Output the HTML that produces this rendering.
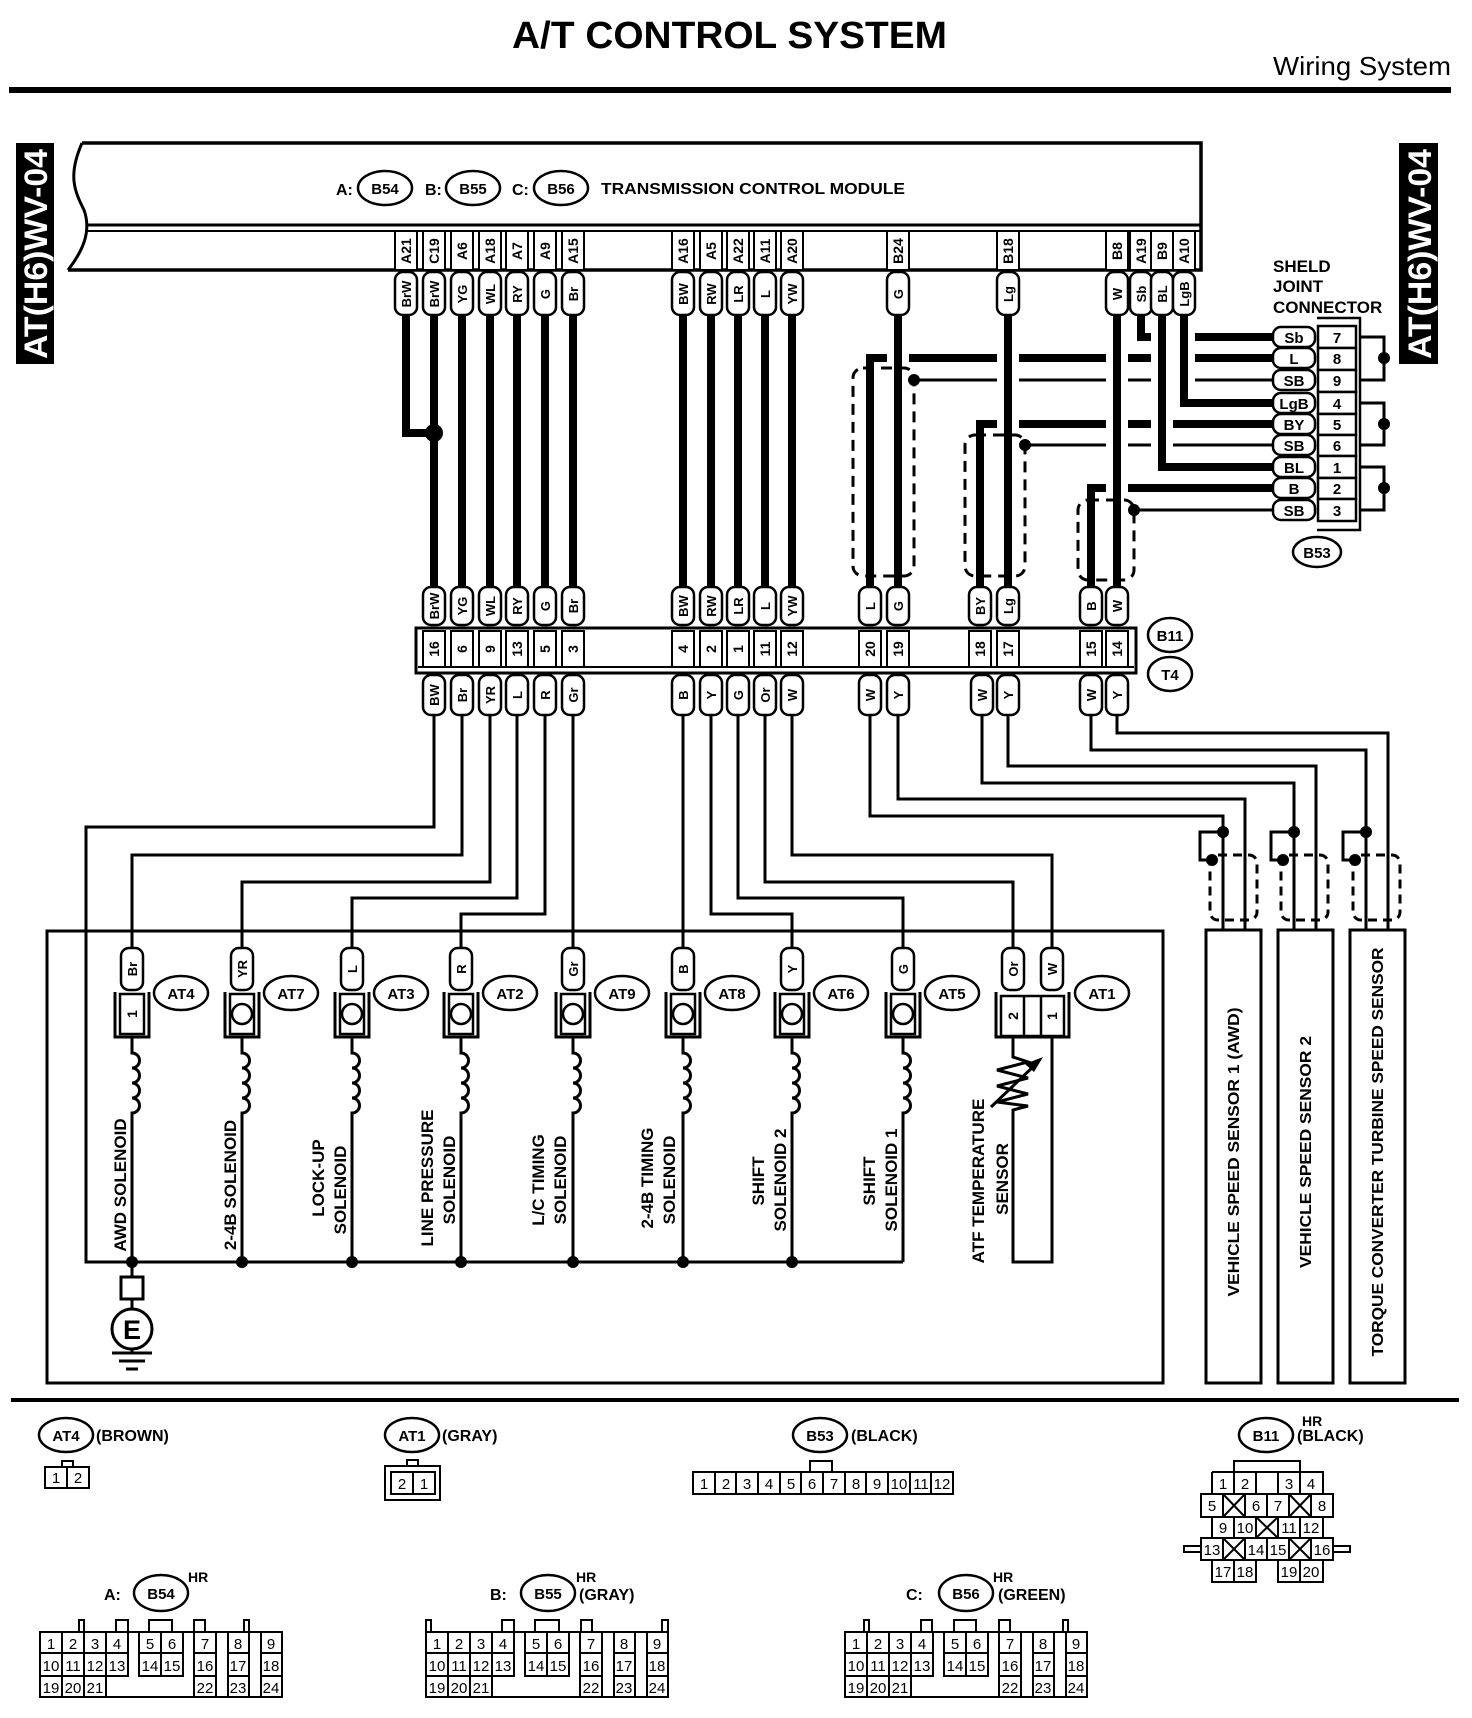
<!DOCTYPE html>
<html><head><meta charset="utf-8"><style>
html,body{margin:0;padding:0;background:#fff}
svg{display:block}
text{font-family:"Liberation Sans",Arial,sans-serif;font-weight:bold;fill:#000}
.n{font-weight:normal}
.k{fill:none;stroke:#000}
.c{fill:#fff;stroke:#000;stroke-width:2.5}
</style></head><body>
<svg width="1472" height="1718" viewBox="0 0 1472 1718" xmlns="http://www.w3.org/2000/svg">
<!-- header -->
<text x="512" y="48" font-size="38" textLength="435" lengthAdjust="spacingAndGlyphs">A/T CONTROL SYSTEM</text>
<text class="n" x="1273" y="75" font-size="26" textLength="178" lengthAdjust="spacingAndGlyphs" style="font-weight:normal">Wiring System</text>
<rect x="9" y="87" width="1442" height="6" fill="#000"/>
<!-- sidebars -->
<rect x="16" y="143" width="38" height="221" fill="#000"/>
<text transform="translate(47,254) rotate(-90)" text-anchor="middle" font-size="32" textLength="210" lengthAdjust="spacingAndGlyphs" style="fill:#fff">AT(H6)WV-04</text>
<rect x="1399" y="143" width="39" height="221" fill="#000"/>
<text transform="translate(1431,254) rotate(-90)" text-anchor="middle" font-size="32" textLength="210" lengthAdjust="spacingAndGlyphs" style="fill:#fff">AT(H6)WV-04</text>

<!-- TCM box -->
<path class="k" stroke-width="3.5" d="M82,143 H1201 V270 H68"/>
<path class="k" stroke-width="3" d="M82,143 C68,175 74,190 84,210 C92,232 82,252 68,270"/>
<path class="k" stroke-width="3" d="M86,225 H1201"/>
<path class="k" stroke-width="2" d="M87,231 H1201"/>
<text x="336" y="195" font-size="16">A:</text>
<ellipse class="c" cx="385" cy="188" rx="27" ry="17"/><text x="385" y="194" font-size="15" text-anchor="middle">B54</text>
<text x="425" y="195" font-size="16">B:</text>
<ellipse class="c" cx="473" cy="188" rx="27" ry="17"/><text x="473" y="194" font-size="15" text-anchor="middle">B55</text>
<text x="512" y="195" font-size="16">C:</text>
<ellipse class="c" cx="561" cy="188" rx="27" ry="17"/><text x="561" y="194" font-size="15" text-anchor="middle">B56</text>
<text x="601" y="194" font-size="16" textLength="304" lengthAdjust="spacingAndGlyphs">TRANSMISSION CONTROL MODULE</text>

<!-- TCM pin boxes -->
<g class="c" style="stroke-width:2">
<rect x="395" y="231" width="22" height="39"/><rect x="423" y="231" width="22" height="39"/><rect x="451" y="231" width="22" height="39"/><rect x="479" y="231" width="22" height="39"/><rect x="506" y="231" width="22" height="39"/><rect x="534" y="231" width="22" height="39"/><rect x="562" y="231" width="22" height="39"/>
<rect x="672" y="231" width="22" height="39"/><rect x="700" y="231" width="22" height="39"/><rect x="727" y="231" width="22" height="39"/><rect x="754" y="231" width="22" height="39"/><rect x="781" y="231" width="22" height="39"/>
<rect x="887" y="231" width="22" height="39"/><rect x="997" y="231" width="22" height="39"/>
<rect x="1106" y="231" width="22" height="39"/><rect x="1130" y="231" width="22" height="39"/><rect x="1151" y="231" width="22" height="39"/><rect x="1173" y="231" width="22" height="39"/>
</g>
<g font-size="14" text-anchor="middle">
<text transform="translate(411,251) rotate(-90)">A21</text><text transform="translate(439,251) rotate(-90)">C19</text><text transform="translate(467,251) rotate(-90)">A6</text><text transform="translate(495,251) rotate(-90)">A18</text><text transform="translate(522,251) rotate(-90)">A7</text><text transform="translate(550,251) rotate(-90)">A9</text><text transform="translate(578,251) rotate(-90)">A15</text>
<text transform="translate(688,251) rotate(-90)">A16</text><text transform="translate(716,251) rotate(-90)">A5</text><text transform="translate(743,251) rotate(-90)">A22</text><text transform="translate(770,251) rotate(-90)">A11</text><text transform="translate(797,251) rotate(-90)">A20</text>
<text transform="translate(903,251) rotate(-90)">B24</text><text transform="translate(1013,251) rotate(-90)">B18</text>
<text transform="translate(1122,251) rotate(-90)">B8</text><text transform="translate(1146,251) rotate(-90)">A19</text><text transform="translate(1167,251) rotate(-90)">B9</text><text transform="translate(1189,251) rotate(-90)">A10</text>
</g>

<!-- shield joint horizontals -->
<g class="k" stroke-width="8">
<path d="M1141,315 V337 H1273"/>
<path d="M870,587 V358 H1273"/>
<path d="M980,587 V424 H1273"/>
<path d="M1091,587 V488 H1273"/>
<path d="M1184,315 V403 H1273"/>
<path d="M1162,315 V467 H1273"/>
</g>
<g class="k" stroke-width="3">
<path d="M914,380 H1273"/><path d="M1025,445 H1273"/><path d="M1134,510 H1273"/>
</g>
<!-- halos -->
<g stroke="#fff" stroke-width="22" fill="none">
<path d="M898,322 V580"/><path d="M1008,322 V580"/><path d="M1117,322 V580"/>
<path d="M1162,325 V455"/><path d="M1184,325 V392"/>
</g>
<!-- thick verticals -->
<g class="k" stroke-width="8">
<path d="M406,315 V433 H434"/>
<path d="M434,315 V587"/><path d="M462,315 V587"/><path d="M490,315 V587"/><path d="M517,315 V587"/><path d="M545,315 V587"/><path d="M573,315 V587"/>
<path d="M683,315 V587"/><path d="M711,315 V587"/><path d="M738,315 V587"/><path d="M765,315 V587"/><path d="M792,315 V587"/>
<path d="M898,315 V587"/><path d="M1008,315 V587"/><path d="M1117,315 V587"/>
<path d="M1184,315 V403 H1273"/><path d="M1162,315 V467 H1273"/>
</g>
<circle cx="434" cy="433" r="9" fill="#000"/>
<!-- shields upper -->
<g class="k" stroke-width="3" stroke-dasharray="11,7">
<rect x="853" y="368" width="61" height="208" rx="10"/>
<rect x="965" y="435" width="60" height="141" rx="10"/>
<rect x="1078" y="500" width="56" height="80" rx="10"/>
</g>
<circle cx="914" cy="380" r="6"/><circle cx="1025" cy="445" r="6"/><circle cx="1134" cy="510" r="6"/>

<!-- TCM wire capsules -->
<g class="c">
<rect x="395" y="272" width="22" height="43" rx="8"/><rect x="423" y="272" width="22" height="43" rx="8"/><rect x="451" y="272" width="22" height="43" rx="8"/><rect x="479" y="272" width="22" height="43" rx="8"/><rect x="506" y="272" width="22" height="43" rx="8"/><rect x="534" y="272" width="22" height="43" rx="8"/><rect x="562" y="272" width="22" height="43" rx="8"/>
<rect x="672" y="272" width="22" height="43" rx="8"/><rect x="700" y="272" width="22" height="43" rx="8"/><rect x="727" y="272" width="22" height="43" rx="8"/><rect x="754" y="272" width="22" height="43" rx="8"/><rect x="781" y="272" width="22" height="43" rx="8"/>
<rect x="887" y="272" width="22" height="43" rx="8"/><rect x="997" y="272" width="22" height="43" rx="8"/>
<rect x="1106" y="272" width="22" height="43" rx="8"/><rect x="1130" y="272" width="22" height="43" rx="8"/><rect x="1151" y="272" width="22" height="43" rx="8"/><rect x="1173" y="272" width="22" height="43" rx="8"/>
</g>
<g font-size="13" text-anchor="middle">
<text transform="translate(411,294) rotate(-90)">BrW</text><text transform="translate(439,294) rotate(-90)">BrW</text><text transform="translate(467,294) rotate(-90)">YG</text><text transform="translate(495,294) rotate(-90)">WL</text><text transform="translate(522,294) rotate(-90)">RY</text><text transform="translate(550,294) rotate(-90)">G</text><text transform="translate(578,294) rotate(-90)">Br</text>
<text transform="translate(688,294) rotate(-90)">BW</text><text transform="translate(716,294) rotate(-90)">RW</text><text transform="translate(743,294) rotate(-90)">LR</text><text transform="translate(770,294) rotate(-90)">L</text><text transform="translate(797,294) rotate(-90)">YW</text>
<text transform="translate(903,294) rotate(-90)">G</text><text transform="translate(1013,294) rotate(-90)">Lg</text>
<text transform="translate(1122,294) rotate(-90)">W</text><text transform="translate(1146,294) rotate(-90)">Sb</text><text transform="translate(1167,294) rotate(-90)">BL</text><text transform="translate(1189,294) rotate(-90)">LgB</text>
</g>

<!-- shield joint connector -->
<text x="1273" y="272" font-size="17">SHELD</text>
<text x="1273" y="292" font-size="17">JOINT</text>
<text x="1273" y="313" font-size="17">CONNECTOR</text>
<path class="k" stroke-width="2.5" d="M1317,318 H1360 V530 H1317"/>
<g class="c">
<rect x="1273" y="327" width="42" height="20" rx="8"/><rect x="1273" y="348" width="42" height="20" rx="8"/><rect x="1273" y="370" width="42" height="20" rx="8"/><rect x="1273" y="393" width="42" height="20" rx="8"/><rect x="1273" y="414" width="42" height="20" rx="8"/><rect x="1273" y="435" width="42" height="20" rx="8"/><rect x="1273" y="457" width="42" height="20" rx="8"/><rect x="1273" y="478" width="42" height="20" rx="8"/><rect x="1273" y="500" width="42" height="20" rx="8"/>
<rect x="1318" y="326" width="38" height="22"/><rect x="1318" y="348" width="38" height="22"/><rect x="1318" y="370" width="38" height="22"/><rect x="1318" y="392" width="38" height="22"/><rect x="1318" y="414" width="38" height="21"/><rect x="1318" y="435" width="38" height="21"/><rect x="1318" y="456" width="38" height="22"/><rect x="1318" y="478" width="38" height="21"/><rect x="1318" y="499" width="38" height="22"/>
</g>
<g font-size="15" text-anchor="middle">
<text x="1294" y="343">Sb</text><text x="1294" y="364">L</text><text x="1294" y="386">SB</text><text x="1294" y="409">LgB</text><text x="1294" y="430">BY</text><text x="1294" y="451">SB</text><text x="1294" y="473">BL</text><text x="1294" y="494">B</text><text x="1294" y="516">SB</text>
<text x="1337" y="343">7</text><text x="1337" y="364">8</text><text x="1337" y="386">9</text><text x="1337" y="409">4</text><text x="1337" y="430">5</text><text x="1337" y="451">6</text><text x="1337" y="473">1</text><text x="1337" y="494">2</text><text x="1337" y="516">3</text>
</g>
<g class="k" stroke-width="3">
<path d="M1360,337 H1384 V380 H1360"/><path d="M1360,403 H1384 V445 H1360"/><path d="M1360,467 H1384 V510 H1360"/>
</g>
<circle cx="1384" cy="358" r="6"/><circle cx="1384" cy="424" r="6"/><circle cx="1384" cy="488" r="6"/>
<ellipse class="c" cx="1317" cy="552" rx="24" ry="15"/><text x="1317" y="558" font-size="15" text-anchor="middle">B53</text>

<!-- B11 / T4 connector -->
<rect class="c" style="stroke-width:3" x="416" y="628" width="720" height="45"/>
<path class="k" stroke-width="2" d="M418,667 H1134"/>
<g class="c" style="stroke-width:2">
<rect x="423" y="631" width="22" height="36"/><rect x="451" y="631" width="22" height="36"/><rect x="479" y="631" width="22" height="36"/><rect x="506" y="631" width="22" height="36"/><rect x="534" y="631" width="22" height="36"/><rect x="562" y="631" width="22" height="36"/>
<rect x="672" y="631" width="22" height="36"/><rect x="700" y="631" width="22" height="36"/><rect x="727" y="631" width="22" height="36"/><rect x="754" y="631" width="22" height="36"/><rect x="781" y="631" width="22" height="36"/>
<rect x="859" y="631" width="22" height="36"/><rect x="887" y="631" width="22" height="36"/><rect x="969" y="631" width="22" height="36"/><rect x="997" y="631" width="22" height="36"/><rect x="1080" y="631" width="22" height="36"/><rect x="1106" y="631" width="22" height="36"/>
</g>
<g font-size="14" text-anchor="middle">
<text transform="translate(439,649) rotate(-90)">16</text><text transform="translate(467,649) rotate(-90)">6</text><text transform="translate(495,649) rotate(-90)">9</text><text transform="translate(522,649) rotate(-90)">13</text><text transform="translate(550,649) rotate(-90)">5</text><text transform="translate(578,649) rotate(-90)">3</text>
<text transform="translate(688,649) rotate(-90)">4</text><text transform="translate(716,649) rotate(-90)">2</text><text transform="translate(743,649) rotate(-90)">1</text><text transform="translate(770,649) rotate(-90)">11</text><text transform="translate(797,649) rotate(-90)">12</text>
<text transform="translate(875,649) rotate(-90)">20</text><text transform="translate(903,649) rotate(-90)">19</text><text transform="translate(985,649) rotate(-90)">18</text><text transform="translate(1013,649) rotate(-90)">17</text><text transform="translate(1096,649) rotate(-90)">15</text><text transform="translate(1122,649) rotate(-90)">14</text>
</g>
<ellipse class="c" cx="1170" cy="635" rx="22" ry="17"/><text x="1170" y="641" font-size="15" text-anchor="middle">B11</text>
<ellipse class="c" cx="1170" cy="674" rx="22" ry="17"/><text x="1170" y="680" font-size="15" text-anchor="middle">T4</text>
<!-- B11 upper capsules -->
<g class="c">
<rect x="423" y="587" width="22" height="38" rx="8"/><rect x="451" y="587" width="22" height="38" rx="8"/><rect x="479" y="587" width="22" height="38" rx="8"/><rect x="506" y="587" width="22" height="38" rx="8"/><rect x="534" y="587" width="22" height="38" rx="8"/><rect x="562" y="587" width="22" height="38" rx="8"/>
<rect x="672" y="587" width="22" height="38" rx="8"/><rect x="700" y="587" width="22" height="38" rx="8"/><rect x="727" y="587" width="22" height="38" rx="8"/><rect x="754" y="587" width="22" height="38" rx="8"/><rect x="781" y="587" width="22" height="38" rx="8"/>
<rect x="859" y="587" width="22" height="38" rx="8"/><rect x="887" y="587" width="22" height="38" rx="8"/><rect x="969" y="587" width="22" height="38" rx="8"/><rect x="997" y="587" width="22" height="38" rx="8"/><rect x="1080" y="587" width="22" height="38" rx="8"/><rect x="1106" y="587" width="22" height="38" rx="8"/>
</g>
<g font-size="13" text-anchor="middle">
<text transform="translate(439,606) rotate(-90)">BrW</text><text transform="translate(467,606) rotate(-90)">YG</text><text transform="translate(495,606) rotate(-90)">WL</text><text transform="translate(522,606) rotate(-90)">RY</text><text transform="translate(550,606) rotate(-90)">G</text><text transform="translate(578,606) rotate(-90)">Br</text>
<text transform="translate(688,606) rotate(-90)">BW</text><text transform="translate(716,606) rotate(-90)">RW</text><text transform="translate(743,606) rotate(-90)">LR</text><text transform="translate(770,606) rotate(-90)">L</text><text transform="translate(797,606) rotate(-90)">YW</text>
<text transform="translate(875,606) rotate(-90)">L</text><text transform="translate(903,606) rotate(-90)">G</text><text transform="translate(985,606) rotate(-90)">BY</text><text transform="translate(1013,606) rotate(-90)">Lg</text><text transform="translate(1096,606) rotate(-90)">B</text><text transform="translate(1122,606) rotate(-90)">W</text>
</g>

<!-- lower thin wires -->
<g class="k" stroke-width="3">
<path d="M434,715 V827 H86 V1262 H903"/>
<path d="M462,715 V855 H132 V948"/>
<path d="M490,715 V882 H242 V948"/>
<path d="M517,715 V898 H352 V948"/>
<path d="M545,715 V914 H461 V948"/>
<path d="M573,715 V948"/>
<path d="M683,715 V948"/>
<path d="M711,715 V914 H792 V948"/>
<path d="M738,715 V898 H903 V948"/>
<path d="M765,715 V882 H1013 V948"/>
<path d="M792,715 V855 H1052 V948"/>
<path d="M870,715 V816 H1223 V930"/>
<path d="M898,715 V799 H1245 V930"/>
<path d="M982,715 V783 H1294 V930"/>
<path d="M1008,715 V766 H1316 V930"/>
<path d="M1091,715 V750 H1366 V930"/>
<path d="M1117,715 V733 H1388 V930"/>
</g>
<!-- B11 lower capsules -->
<g class="c">
<rect x="423" y="675" width="22" height="40" rx="8"/><rect x="451" y="675" width="22" height="40" rx="8"/><rect x="479" y="675" width="22" height="40" rx="8"/><rect x="506" y="675" width="22" height="40" rx="8"/><rect x="534" y="675" width="22" height="40" rx="8"/><rect x="562" y="675" width="22" height="40" rx="8"/>
<rect x="672" y="675" width="22" height="40" rx="8"/><rect x="700" y="675" width="22" height="40" rx="8"/><rect x="727" y="675" width="22" height="40" rx="8"/><rect x="754" y="675" width="22" height="40" rx="8"/><rect x="781" y="675" width="22" height="40" rx="8"/>
<rect x="859" y="675" width="22" height="40" rx="8"/><rect x="887" y="675" width="22" height="40" rx="8"/><rect x="971" y="675" width="22" height="40" rx="8"/><rect x="997" y="675" width="22" height="40" rx="8"/><rect x="1080" y="675" width="22" height="40" rx="8"/><rect x="1106" y="675" width="22" height="40" rx="8"/>
</g>
<g font-size="13" text-anchor="middle">
<text transform="translate(439,695) rotate(-90)">BW</text><text transform="translate(467,695) rotate(-90)">Br</text><text transform="translate(495,695) rotate(-90)">YR</text><text transform="translate(522,695) rotate(-90)">L</text><text transform="translate(550,695) rotate(-90)">R</text><text transform="translate(578,695) rotate(-90)">Gr</text>
<text transform="translate(688,695) rotate(-90)">B</text><text transform="translate(716,695) rotate(-90)">Y</text><text transform="translate(743,695) rotate(-90)">G</text><text transform="translate(770,695) rotate(-90)">Or</text><text transform="translate(797,695) rotate(-90)">W</text>
<text transform="translate(875,695) rotate(-90)">W</text><text transform="translate(903,695) rotate(-90)">Y</text><text transform="translate(987,695) rotate(-90)">W</text><text transform="translate(1013,695) rotate(-90)">Y</text><text transform="translate(1096,695) rotate(-90)">W</text><text transform="translate(1122,695) rotate(-90)">Y</text>
</g>

<!-- sensor shields -->
<g class="k" stroke-width="3">
<path d="M1223,832 H1200 V860 H1212"/><path d="M1294,832 H1271 V860 H1283"/><path d="M1366,832 H1343 V860 H1355"/>
</g>
<circle cx="1223" cy="832" r="6"/><circle cx="1212" cy="860" r="6"/>
<circle cx="1294" cy="832" r="6"/><circle cx="1283" cy="860" r="6"/>
<circle cx="1366" cy="832" r="6"/><circle cx="1355" cy="860" r="6"/>
<g class="k" stroke-width="3" stroke-dasharray="9,6">
<rect x="1210" y="855" width="47" height="65" rx="8"/><rect x="1281" y="855" width="47" height="65" rx="8"/><rect x="1353" y="855" width="47" height="65" rx="8"/>
</g>
<!-- sensor boxes -->
<g class="k" stroke-width="3">
<rect x="1206" y="930" width="55" height="453"/><rect x="1278" y="930" width="55" height="453"/><rect x="1350" y="930" width="55" height="453"/>
</g>
<g font-size="16" text-anchor="middle">
<text transform="translate(1239,1152) rotate(-90)" textLength="289" lengthAdjust="spacingAndGlyphs">VEHICLE SPEED SENSOR 1 (AWD)</text>
<text transform="translate(1311,1152) rotate(-90)" textLength="232" lengthAdjust="spacingAndGlyphs">VEHICLE SPEED SENSOR 2</text>
<text transform="translate(1383,1152) rotate(-90)" textLength="409" lengthAdjust="spacingAndGlyphs">TORQUE CONVERTER TURBINE SPEED SENSOR</text>
</g>

<!-- solenoid box -->
<rect class="k" stroke-width="3" x="47" y="931" width="1116" height="452"/>

<!-- solenoids -->
<g class="k" stroke-width="3">
<path d="M132,1037 V1053 a7.5,7.5 0 0 1 0,15 a7.5,7.5 0 0 1 0,15 a7.5,7.5 0 0 1 0,15 a7.5,7.5 0 0 1 0,15 V1262"/>
<path d="M242,1037 V1053 a7.5,7.5 0 0 1 0,15 a7.5,7.5 0 0 1 0,15 a7.5,7.5 0 0 1 0,15 a7.5,7.5 0 0 1 0,15 V1262"/>
<path d="M352,1037 V1053 a7.5,7.5 0 0 1 0,15 a7.5,7.5 0 0 1 0,15 a7.5,7.5 0 0 1 0,15 a7.5,7.5 0 0 1 0,15 V1262"/>
<path d="M461,1037 V1053 a7.5,7.5 0 0 1 0,15 a7.5,7.5 0 0 1 0,15 a7.5,7.5 0 0 1 0,15 a7.5,7.5 0 0 1 0,15 V1262"/>
<path d="M573,1037 V1053 a7.5,7.5 0 0 1 0,15 a7.5,7.5 0 0 1 0,15 a7.5,7.5 0 0 1 0,15 a7.5,7.5 0 0 1 0,15 V1262"/>
<path d="M683,1037 V1053 a7.5,7.5 0 0 1 0,15 a7.5,7.5 0 0 1 0,15 a7.5,7.5 0 0 1 0,15 a7.5,7.5 0 0 1 0,15 V1262"/>
<path d="M792,1037 V1053 a7.5,7.5 0 0 1 0,15 a7.5,7.5 0 0 1 0,15 a7.5,7.5 0 0 1 0,15 a7.5,7.5 0 0 1 0,15 V1262"/>
<path d="M903,1037 V1053 a7.5,7.5 0 0 1 0,15 a7.5,7.5 0 0 1 0,15 a7.5,7.5 0 0 1 0,15 a7.5,7.5 0 0 1 0,15 V1262"/>
<path d="M115,992 V1037 H149 V992"/><path d="M225,992 V1037 H259 V992"/><path d="M335,992 V1037 H369 V992"/><path d="M444,992 V1037 H478 V992"/><path d="M556,992 V1037 H590 V992"/><path d="M666,992 V1037 H700 V992"/><path d="M775,992 V1037 H809 V992"/><path d="M886,992 V1037 H920 V992"/>
</g>
<g class="c">
<rect x="120" y="994" width="24" height="40"/><rect x="230" y="994" width="24" height="40"/><rect x="340" y="994" width="24" height="40"/><rect x="449" y="994" width="24" height="40"/><rect x="561" y="994" width="24" height="40"/><rect x="671" y="994" width="24" height="40"/><rect x="780" y="994" width="24" height="40"/><rect x="891" y="994" width="24" height="40"/>
<circle cx="242" cy="1014" r="10"/><circle cx="352" cy="1014" r="10"/><circle cx="461" cy="1014" r="10"/><circle cx="573" cy="1014" r="10"/><circle cx="683" cy="1014" r="10"/><circle cx="792" cy="1014" r="10"/><circle cx="903" cy="1014" r="10"/>
<rect x="121" y="948" width="22" height="42" rx="8"/><rect x="231" y="948" width="22" height="42" rx="8"/><rect x="341" y="948" width="22" height="42" rx="8"/><rect x="450" y="948" width="22" height="42" rx="8"/><rect x="562" y="948" width="22" height="42" rx="8"/><rect x="672" y="948" width="22" height="42" rx="8"/><rect x="781" y="948" width="22" height="42" rx="8"/><rect x="892" y="948" width="22" height="42" rx="8"/>
<rect x="1002" y="948" width="22" height="42" rx="8"/><rect x="1041" y="948" width="22" height="42" rx="8"/>
<ellipse cx="181" cy="993" rx="27" ry="17"/><ellipse cx="291" cy="993" rx="27" ry="17"/><ellipse cx="401" cy="993" rx="27" ry="17"/><ellipse cx="510" cy="993" rx="27" ry="17"/><ellipse cx="622" cy="993" rx="27" ry="17"/><ellipse cx="732" cy="993" rx="27" ry="17"/><ellipse cx="841" cy="993" rx="27" ry="17"/><ellipse cx="952" cy="993" rx="27" ry="17"/><ellipse cx="1102" cy="993" rx="27" ry="17"/>
</g>
<g font-size="13" text-anchor="middle">
<text transform="translate(137,969) rotate(-90)">Br</text><text transform="translate(247,969) rotate(-90)">YR</text><text transform="translate(357,969) rotate(-90)">L</text><text transform="translate(466,969) rotate(-90)">R</text><text transform="translate(578,969) rotate(-90)">Gr</text><text transform="translate(688,969) rotate(-90)">B</text><text transform="translate(797,969) rotate(-90)">Y</text><text transform="translate(908,969) rotate(-90)">G</text>
<text transform="translate(1018,969) rotate(-90)">Or</text><text transform="translate(1057,969) rotate(-90)">W</text>
<text transform="translate(137,1014) rotate(-90)" font-size="14">1</text>
</g>
<g font-size="15" text-anchor="middle">
<text x="181" y="999">AT4</text><text x="291" y="999">AT7</text><text x="401" y="999">AT3</text><text x="510" y="999">AT2</text><text x="622" y="999">AT9</text><text x="732" y="999">AT8</text><text x="841" y="999">AT6</text><text x="952" y="999">AT5</text><text x="1102" y="999">AT1</text>
</g>
<g fill="#000">
<circle cx="132" cy="1262" r="6"/><circle cx="242" cy="1262" r="6"/><circle cx="352" cy="1262" r="6"/><circle cx="461" cy="1262" r="6"/><circle cx="573" cy="1262" r="6"/><circle cx="683" cy="1262" r="6"/><circle cx="792" cy="1262" r="6"/>
</g>
<!-- AT1 sensor -->
<path class="k" stroke-width="3" d="M996,992 V1037 H1069 V992"/>
<rect class="c" x="1001" y="996" width="63" height="40"/>
<path class="k" stroke-width="2.5" d="M1024,996 V1036 M1041,996 V1036"/>
<text transform="translate(1018,1016) rotate(-90)" font-size="14" text-anchor="middle">2</text>
<text transform="translate(1057,1016) rotate(-90)" font-size="14" text-anchor="middle">1</text>
<path class="k" stroke-width="3" d="M1013,1037 V1057 L1028,1062 L997,1070 L1028,1078 L997,1086 L1028,1094 L997,1102 L1028,1106 L1013,1110 V1262 H1052 V1037"/>
<path class="k" stroke-width="3" d="M991,1107 L1036,1064"/>
<path d="M1043,1057 L1025,1064 L1034,1072 Z" fill="#000"/>
<!-- ground -->
<path class="k" stroke-width="3" d="M132,1262 V1277 M132,1299 V1309 M132,1349 V1353 M112,1353 H152 M119,1361 H145 M126,1369 H138"/>
<rect class="k" stroke-width="3" x="121" y="1277" width="22" height="22"/>
<circle class="k" stroke-width="3" cx="132" cy="1329" r="20"/>
<text x="132" y="1339" font-size="27" text-anchor="middle">E</text>
<!-- solenoid labels -->
<g font-size="17" text-anchor="middle">
<text transform="translate(126,1185) rotate(-90)">AWD SOLENOID</text>
<text transform="translate(236,1185) rotate(-90)">2-4B SOLENOID</text>
<text transform="translate(324,1178) rotate(-90)">LOCK-UP</text><text transform="translate(346,1190) rotate(-90)">SOLENOID</text>
<text transform="translate(433,1178) rotate(-90)">LINE PRESSURE</text><text transform="translate(455,1180) rotate(-90)">SOLENOID</text>
<text transform="translate(544,1180) rotate(-90)">L/C TIMING</text><text transform="translate(566,1180) rotate(-90)">SOLENOID</text>
<text transform="translate(653,1178) rotate(-90)">2-4B TIMING</text><text transform="translate(675,1180) rotate(-90)">SOLENOID</text>
<text transform="translate(764,1181) rotate(-90)">SHIFT</text><text transform="translate(786,1180) rotate(-90)">SOLENOID 2</text>
<text transform="translate(875,1181) rotate(-90)">SHIFT</text><text transform="translate(897,1180) rotate(-90)">SOLENOID 1</text>
<text transform="translate(984,1181) rotate(-90)">ATF TEMPERATURE</text><text transform="translate(1008,1179) rotate(-90)">SENSOR</text>
</g>

<!-- separator -->
<rect x="11" y="1398" width="1448" height="4" fill="#000"/>

<!-- bottom connector legends -->
<g font-size="16">
<ellipse class="c" cx="66" cy="1435" rx="27" ry="17"/><text x="66" y="1441" text-anchor="middle" font-size="15">AT4</text><text x="96" y="1441">(BROWN)</text>
<ellipse class="c" cx="412" cy="1435" rx="27" ry="17"/><text x="412" y="1441" text-anchor="middle" font-size="15">AT1</text><text x="442" y="1441">(GRAY)</text>
<ellipse class="c" cx="820" cy="1435" rx="27" ry="17"/><text x="820" y="1441" text-anchor="middle" font-size="15">B53</text><text x="851" y="1441">(BLACK)</text>
<ellipse class="c" cx="1266" cy="1435" rx="27" ry="17"/><text x="1266" y="1441" text-anchor="middle" font-size="15">B11</text><text x="1297" y="1441">(BLACK)</text><text x="1302" y="1426" font-size="14">HR</text>
<text x="104" y="1600">A:</text><ellipse class="c" cx="161" cy="1593" rx="27" ry="18"/><text x="161" y="1599" text-anchor="middle" font-size="15">B54</text><text x="188" y="1582" font-size="14">HR</text>
<text x="490" y="1600">B:</text><ellipse class="c" cx="548" cy="1593" rx="27" ry="18"/><text x="548" y="1599" text-anchor="middle" font-size="15">B55</text><text x="576" y="1582" font-size="14">HR</text><text x="579" y="1600">(GRAY)</text>
<text x="906" y="1600">C:</text><ellipse class="c" cx="966" cy="1593" rx="27" ry="18"/><text x="966" y="1599" text-anchor="middle" font-size="15">B56</text><text x="993" y="1582" font-size="14">HR</text><text x="998" y="1600">(GREEN)</text>
</g>
<g class="k" stroke-width="2">
<!-- AT4 -->
<rect x="45" y="1467" width="44" height="21"/><path d="M67,1467 V1488"/><rect x="62" y="1461" width="11" height="6"/>
<!-- AT1 -->
<rect x="385" y="1466" width="55" height="34"/><rect x="391" y="1472" width="44" height="22"/><path d="M413,1472 V1494"/><rect x="407" y="1460" width="11" height="6"/>
<!-- B53 -->
<rect x="693" y="1472" width="260" height="22"/>
<path d="M715,1472 V1494 M736,1472 V1494 M758,1472 V1494 M780,1472 V1494 M801,1472 V1494 M823,1472 V1494 M845,1472 V1494 M866,1472 V1494 M888,1472 V1494 M910,1472 V1494 M931,1472 V1494"/>
<rect x="810" y="1461" width="22" height="11"/>
<!-- B11 -->
<rect x="1234" y="1461" width="66" height="11"/>
<path d="M1212,1472 H1256 V1494 M1212,1472 V1494 M1234,1472 V1494 M1278,1472 H1323 V1494 M1278,1472 V1494 M1300,1472 V1494"/>
<rect x="1201" y="1494" width="132" height="23"/>
<path d="M1223,1494 V1517 M1245,1494 V1517 M1267,1494 V1517 M1289,1494 V1517 M1311,1494 V1517 M1223,1494 L1245,1517 M1245,1494 L1223,1517 M1289,1494 L1311,1517 M1311,1494 L1289,1517"/>
<rect x="1212" y="1517" width="111" height="21"/>
<path d="M1234,1517 V1538 M1256,1517 V1538 M1278,1517 V1538 M1300,1517 V1538 M1256,1517 L1278,1538 M1278,1517 L1256,1538"/>
<rect x="1201" y="1538" width="132" height="22"/>
<path d="M1223,1538 V1560 M1245,1538 V1560 M1267,1538 V1560 M1289,1538 V1560 M1311,1538 V1560 M1223,1538 L1245,1560 M1245,1538 L1223,1560 M1289,1538 L1311,1560 M1311,1538 L1289,1560"/>
<rect x="1184" y="1546" width="17" height="6"/><rect x="1333" y="1546" width="17" height="6"/>
<rect x="1212" y="1560" width="44" height="22"/><path d="M1234,1560 V1582"/>
<rect x="1278" y="1560" width="45" height="22"/><path d="M1300,1560 V1582"/>
</g>
<g class="n" font-size="15" text-anchor="middle" style="font-weight:normal">
<text class="n" x="56" y="1483">1</text><text class="n" x="78" y="1483">2</text>
<text class="n" x="402" y="1489">2</text><text class="n" x="424" y="1489">1</text>
<text class="n" x="704" y="1489">1</text><text class="n" x="726" y="1489">2</text><text class="n" x="747" y="1489">3</text><text class="n" x="769" y="1489">4</text><text class="n" x="791" y="1489">5</text><text class="n" x="812" y="1489">6</text><text class="n" x="834" y="1489">7</text><text class="n" x="856" y="1489">8</text><text class="n" x="877" y="1489">9</text><text class="n" x="899" y="1489">10</text><text class="n" x="921" y="1489">11</text><text class="n" x="942" y="1489">12</text>
<text class="n" x="1223" y="1489">1</text><text class="n" x="1245" y="1489">2</text><text class="n" x="1289" y="1489">3</text><text class="n" x="1311" y="1489">4</text>
<text class="n" x="1212" y="1511">5</text><text class="n" x="1256" y="1511">6</text><text class="n" x="1278" y="1511">7</text><text class="n" x="1322" y="1511">8</text>
<text class="n" x="1223" y="1533">9</text><text class="n" x="1245" y="1533">10</text><text class="n" x="1289" y="1533">11</text><text class="n" x="1311" y="1533">12</text>
<text class="n" x="1212" y="1555">13</text><text class="n" x="1256" y="1555">14</text><text class="n" x="1278" y="1555">15</text><text class="n" x="1322" y="1555">16</text>
<text class="n" x="1223" y="1577">17</text><text class="n" x="1245" y="1577">18</text><text class="n" x="1289" y="1577">19</text><text class="n" x="1311" y="1577">20</text>
</g>

<!-- B54 / B55 / B56 24-pin connectors -->
<g id="c24">
<g class="k" stroke-width="2">
<rect x="40" y="1632" width="242" height="65"/>
<path d="M62,1632 V1697 M84,1632 V1697 M106,1632 V1697 M128,1632 V1676 H106 M40,1653 H128 M40,1676 H106"/>
<rect x="139" y="1632" width="44" height="44"/><path d="M161,1632 V1676 M139,1653 H183"/>
<path d="M194,1632 V1697 M216,1632 V1697 M228,1632 V1697 M249,1632 V1697 M261,1632 V1697"/>
<path d="M194,1653 H216 M194,1676 H216 M228,1653 H249 M228,1676 H249 M261,1653 H282 M261,1676 H282"/>
</g>
</g>
<g class="k" stroke-width="2">
<rect x="79" y="1620" width="5" height="12"/><rect x="116" y="1620" width="12" height="12"/><rect x="149" y="1620" width="23" height="12"/><rect x="194" y="1620" width="11" height="12"/><rect x="244" y="1620" width="5" height="12"/>
</g>
<g transform="translate(386,0)">
<g class="k" stroke-width="2">
<rect x="40" y="1632" width="242" height="65"/>
<path d="M62,1632 V1697 M84,1632 V1697 M106,1632 V1697 M128,1632 V1676 H106 M40,1653 H128 M40,1676 H106"/>
<rect x="139" y="1632" width="44" height="44"/><path d="M161,1632 V1676 M139,1653 H183"/>
<path d="M194,1632 V1697 M216,1632 V1697 M228,1632 V1697 M249,1632 V1697 M261,1632 V1697"/>
<path d="M194,1653 H216 M194,1676 H216 M228,1653 H249 M228,1676 H249 M261,1653 H282 M261,1676 H282"/>
<rect x="40" y="1620" width="5" height="12"/><rect x="116" y="1620" width="12" height="12"/><rect x="149" y="1620" width="24" height="12"/><rect x="195" y="1620" width="11" height="12"/><rect x="276" y="1620" width="6" height="12"/>
</g>
</g>
<g transform="translate(805,0)">
<g class="k" stroke-width="2">
<rect x="40" y="1632" width="242" height="65"/>
<path d="M62,1632 V1697 M84,1632 V1697 M106,1632 V1697 M128,1632 V1676 H106 M40,1653 H128 M40,1676 H106"/>
<rect x="139" y="1632" width="44" height="44"/><path d="M161,1632 V1676 M139,1653 H183"/>
<path d="M194,1632 V1697 M216,1632 V1697 M228,1632 V1697 M249,1632 V1697 M261,1632 V1697"/>
<path d="M194,1653 H216 M194,1676 H216 M228,1653 H249 M228,1676 H249 M261,1653 H282 M261,1676 H282"/>
<rect x="59" y="1620" width="5" height="12"/><rect x="116" y="1620" width="11" height="12"/><rect x="149" y="1620" width="22" height="12"/><rect x="194" y="1620" width="11" height="12"/><rect x="258" y="1620" width="5" height="12"/>
</g>
</g>
<!-- numbers for 24-pin connectors -->
<g font-size="15" text-anchor="middle" style="font-weight:normal">
<g>
<text class="n" x="51" y="1649">1</text><text class="n" x="73" y="1649">2</text><text class="n" x="95" y="1649">3</text><text class="n" x="117" y="1649">4</text><text class="n" x="150" y="1649">5</text><text class="n" x="172" y="1649">6</text><text class="n" x="205" y="1649">7</text><text class="n" x="238" y="1649">8</text><text class="n" x="271" y="1649">9</text>
<text class="n" x="51" y="1671">10</text><text class="n" x="73" y="1671">11</text><text class="n" x="95" y="1671">12</text><text class="n" x="117" y="1671">13</text><text class="n" x="150" y="1671">14</text><text class="n" x="172" y="1671">15</text><text class="n" x="205" y="1671">16</text><text class="n" x="238" y="1671">17</text><text class="n" x="271" y="1671">18</text>
<text class="n" x="51" y="1693">19</text><text class="n" x="73" y="1693">20</text><text class="n" x="95" y="1693">21</text><text class="n" x="205" y="1693">22</text><text class="n" x="238" y="1693">23</text><text class="n" x="271" y="1693">24</text>
</g>
<g transform="translate(386,0)">
<text class="n" x="51" y="1649">1</text><text class="n" x="73" y="1649">2</text><text class="n" x="95" y="1649">3</text><text class="n" x="117" y="1649">4</text><text class="n" x="150" y="1649">5</text><text class="n" x="172" y="1649">6</text><text class="n" x="205" y="1649">7</text><text class="n" x="238" y="1649">8</text><text class="n" x="271" y="1649">9</text>
<text class="n" x="51" y="1671">10</text><text class="n" x="73" y="1671">11</text><text class="n" x="95" y="1671">12</text><text class="n" x="117" y="1671">13</text><text class="n" x="150" y="1671">14</text><text class="n" x="172" y="1671">15</text><text class="n" x="205" y="1671">16</text><text class="n" x="238" y="1671">17</text><text class="n" x="271" y="1671">18</text>
<text class="n" x="51" y="1693">19</text><text class="n" x="73" y="1693">20</text><text class="n" x="95" y="1693">21</text><text class="n" x="205" y="1693">22</text><text class="n" x="238" y="1693">23</text><text class="n" x="271" y="1693">24</text>
</g>
<g transform="translate(805,0)">
<text class="n" x="51" y="1649">1</text><text class="n" x="73" y="1649">2</text><text class="n" x="95" y="1649">3</text><text class="n" x="117" y="1649">4</text><text class="n" x="150" y="1649">5</text><text class="n" x="172" y="1649">6</text><text class="n" x="205" y="1649">7</text><text class="n" x="238" y="1649">8</text><text class="n" x="271" y="1649">9</text>
<text class="n" x="51" y="1671">10</text><text class="n" x="73" y="1671">11</text><text class="n" x="95" y="1671">12</text><text class="n" x="117" y="1671">13</text><text class="n" x="150" y="1671">14</text><text class="n" x="172" y="1671">15</text><text class="n" x="205" y="1671">16</text><text class="n" x="238" y="1671">17</text><text class="n" x="271" y="1671">18</text>
<text class="n" x="51" y="1693">19</text><text class="n" x="73" y="1693">20</text><text class="n" x="95" y="1693">21</text><text class="n" x="205" y="1693">22</text><text class="n" x="238" y="1693">23</text><text class="n" x="271" y="1693">24</text>
</g>
</g>
</svg>
</body></html>
